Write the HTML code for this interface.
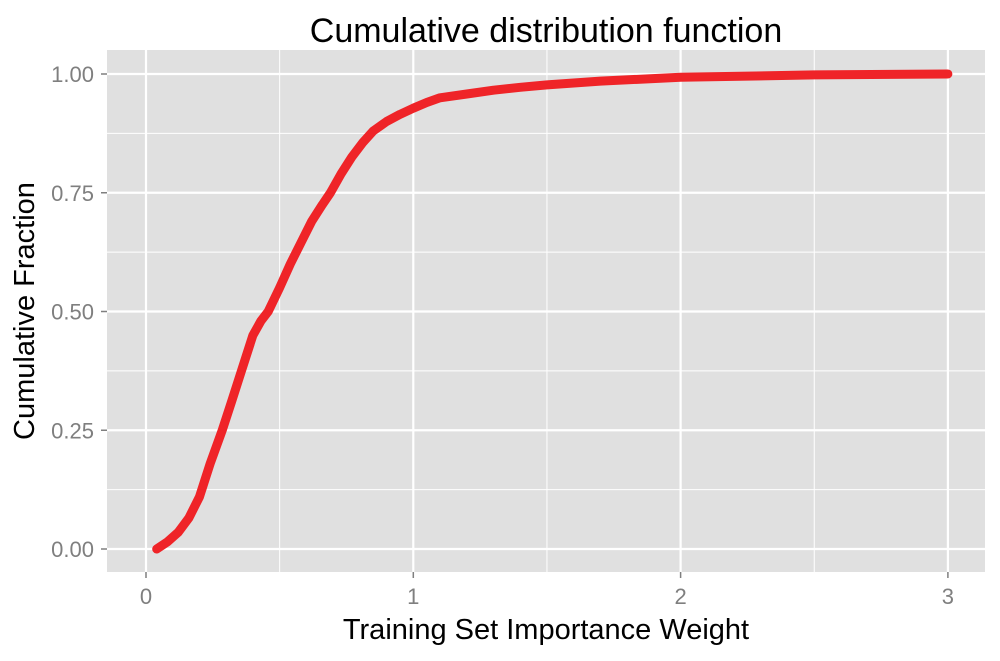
<!DOCTYPE html>
<html><head><meta charset="utf-8"><style>
body{margin:0;background:#fff;}
svg text{font-family:"Liberation Sans",sans-serif;}
</style></head><body>
<svg width="1000" height="656" viewBox="0 0 1000 656">
<rect x="107" y="50" width="878" height="522" fill="#e0e0e0"/>
<g id="grid"></g>
<path id="curve" fill="none" stroke="#ef2428" stroke-width="9" stroke-linejoin="round" stroke-linecap="round"/>
<g id="axes"></g>
<text x="546" y="42" font-size="34" text-anchor="middle">Cumulative distribution function</text>
<text x="546" y="639" font-size="29" text-anchor="middle">Training Set Importance Weight</text>
<text x="0" y="0" font-size="29" text-anchor="middle" transform="translate(34,311) rotate(-90)">Cumulative Fraction</text>
</svg>
<script>
const xs=[0.04,0.08,0.12,0.16,0.2,0.24,0.285,0.32,0.36,0.4,0.43,0.457,0.5,0.54,0.58,0.62,0.66,0.69,0.73,0.77,0.81,0.85,0.9,0.95,1.0,1.05,1.1,1.2,1.3,1.4,1.5,1.7,2.0,2.5,3.0];
const ys=[0,0.015,0.035,0.065,0.11,0.18,0.25,0.31,0.38,0.45,0.48,0.5,0.55,0.6,0.645,0.69,0.725,0.75,0.79,0.825,0.855,0.88,0.9,0.915,0.928,0.94,0.95,0.958,0.966,0.972,0.977,0.985,0.993,0.998,1.0];
const xTicks=[0,1,2,3];
const yTicks=[0,0.25,0.5,0.75,1];
const yLabels=["0.00","0.25","0.50","0.75","1.00"];
const X=v=>146+v*267.3, Y=v=>549-v*475;
const NS="http://www.w3.org/2000/svg";
const grid=document.getElementById('grid'), axes=document.getElementById('axes');
function line(p,x1,y1,x2,y2,w,name){const l=document.createElementNS(NS,'line');
l.setAttribute('x1',x1);l.setAttribute('y1',y1);l.setAttribute('x2',x2);l.setAttribute('y2',y2);
l.setAttribute('stroke',name.includes('tick')?'#7f7f7f':'#fff');l.setAttribute('stroke-width',w);


p.appendChild(l);}
function text(x,y,s,anchor,name){const t=document.createElementNS(NS,'text');
t.setAttribute('x',x);t.setAttribute('y',y);t.setAttribute('font-size','22');t.setAttribute('fill','#7f7f7f');t.setAttribute('text-anchor',anchor);t.textContent=s;


axes.appendChild(t);}
for(let i=0;i<xTicks.length-1;i++){line(grid,X((xTicks[i]+xTicks[i+1])/2),50,X((xTicks[i]+xTicks[i+1])/2),572,1,'x-minor-gridline');}
for(let i=0;i<yTicks.length-1;i++){line(grid,107,Y((yTicks[i]+yTicks[i+1])/2),985,Y((yTicks[i]+yTicks[i+1])/2),1,'y-minor-gridline');}
xTicks.forEach(v=>{line(grid,X(v),50,X(v),572,2.2,'x-gridline');line(axes,X(v),572,X(v),578,1.5,'x-tick');text(X(v),604,String(v),'middle','x-tick-label');});
yTicks.forEach((v,i)=>{line(grid,107,Y(v),985,Y(v),2.2,'y-gridline');line(axes,101,Y(v),107,Y(v),1.5,'y-tick');text(94,Y(v)+8,yLabels[i],'end','y-tick-label');});
document.getElementById('curve').setAttribute('d',xs.map((v,i)=>(i?'L':'M')+X(v).toFixed(1)+','+Y(ys[i]).toFixed(1)).join(''));
</script>
</body></html>
